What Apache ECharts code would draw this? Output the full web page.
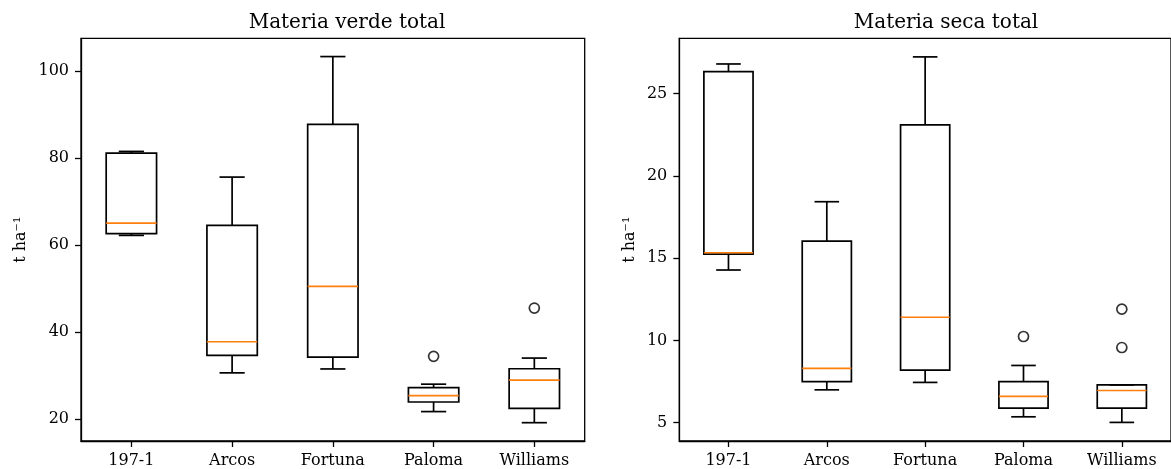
<!DOCTYPE html>
<html>
<head>
<meta charset="utf-8">
<script src="https://cdn.jsdelivr.net/npm/echarts@6/dist/echarts.min.js"></script>
<style>
html, body { margin: 0; padding: 0; background: #fff; }
#chart { width: 1171px; height: 469px; }
</style>
</head>
<body>
<div id="chart"></div>
<script>
const categories = ['197-1', 'Arcos', 'Fortuna', 'Paloma', 'Williams'];

// Materia verde total (t ha-1)
const verdeLow = [62.2, 30.6, 31.5, 21.7, 19.15];
const verdeQ1 = [62.6, 34.6, 34.2, 23.9, 22.45];
const verdeMedian = [65.0, 37.75, 50.5, 25.35, 28.95];
const verdeQ3 = [81.1, 64.5, 87.7, 27.2, 31.55];
const verdeHigh = [81.5, 75.6, 103.3, 28.0, 34.0];
const verdeOutliers = [[3, 34.4], [4, 45.5]];

// Materia seca total (t ha-1)
const secaLow = [14.28, 7.0, 7.45, 5.36, 5.02];
const secaQ1 = [15.24, 7.5, 8.2, 5.89, 5.89];
const secaMedian = [15.33, 8.3, 11.41, 6.6, 6.96];
const secaQ3 = [26.34, 16.03, 23.1, 7.5, 7.3];
const secaHigh = [26.8, 18.43, 27.23, 8.48, 7.3];
const secaOutliers = [[3, 10.24], [4, 9.57], [4, 11.9]];

const verdeTicks = [20, 40, 60, 80, 100];
const secaTicks = [5, 10, 15, 20, 25];

const font = 'DejaVu Serif';

function boxData(low, q1, med, q3, high) {
    return categories.map((c, i) => [i, low[i], q1[i], med[i], q3[i], high[i]]);
}

function renderBox(params, api) {
    const i = api.value(0);
    const low = api.coord([i, api.value(1)]);
    const q1 = api.coord([i, api.value(2)]);
    const med = api.coord([i, api.value(3)]);
    const q3 = api.coord([i, api.value(4)]);
    const high = api.coord([i, api.value(5)]);
    const band = api.size([1, 0])[0];
    const x = low[0], hw = band * 0.25, cw = band * 0.125;
    const black = { stroke: '#000', lineWidth: 1.7, fill: null };
    return {
        type: 'group',
        children: [
            { type: 'line', shape: { x1: x, y1: low[1], x2: x, y2: q1[1] }, style: black },
            { type: 'line', shape: { x1: x, y1: q3[1], x2: x, y2: high[1] }, style: black },
            { type: 'line', shape: { x1: x - cw, y1: low[1], x2: x + cw, y2: low[1] }, style: black },
            { type: 'line', shape: { x1: x - cw, y1: high[1], x2: x + cw, y2: high[1] }, style: black },
            { type: 'rect', shape: { x: x - hw, y: q3[1], width: 2 * hw, height: q1[1] - q3[1] }, style: black },
            { type: 'line', shape: { x1: x - hw, y1: med[1], x2: x + hw, y2: med[1] }, style: { stroke: '#ff7f0e', lineWidth: 1.7 } }
        ]
    };
}

function xAxisFor(idx) {
    return {
        type: 'category',
        gridIndex: idx,
        data: categories,
        boundaryGap: true,
        axisLine: { show: true, lineStyle: { color: '#000', width: 1.3 } },
        axisTick: { show: true, alignWithLabel: true, length: 6, lineStyle: { color: '#000', width: 1.3 } },
        axisLabel: { color: '#000', fontFamily: font, fontSize: 16, margin: 12 },
        splitLine: { show: false }
    };
}

function yAxisFor(idx, min, max, ticks, gap) {
    return {
        type: 'value',
        gridIndex: idx,
        min: min,
        max: max,
        name: 't ha⁻¹',
        nameLocation: 'middle',
        nameGap: gap,
        nameTextStyle: { color: '#000', fontFamily: font, fontSize: 16 },
        axisLine: { show: true, lineStyle: { color: '#000', width: 1.3 } },
        axisTick: { show: true, length: 6, customValues: ticks, lineStyle: { color: '#000', width: 1.3 } },
        axisLabel: { color: '#000', fontFamily: font, fontSize: 16, margin: 12, customValues: ticks },
        splitLine: { show: false }
    };
}

let myChart = echarts.init(document.getElementById('chart'), null, { renderer: 'canvas' });
myChart.setOption({
    animation: false,
    backgroundColor: '#fff',
    graphic: [
        { type: 'text', x: 347, y: 22.5, style: { text: 'Materia verde total', font: '20px "DejaVu Serif"', fill: '#000', textAlign: 'center', textVerticalAlign: 'middle' } },
        { type: 'text', x: 946, y: 22.5, style: { text: 'Materia seca total', font: '20px "DejaVu Serif"', fill: '#000', textAlign: 'center', textVerticalAlign: 'middle' } }
    ],
    grid: [
        { left: 81, top: 38.3, width: 503.7, height: 402.7, show: true, borderColor: '#000', borderWidth: 1.3, backgroundColor: 'transparent' },
        { left: 679.3, top: 38.3, width: 503.5, height: 402.7, show: true, borderColor: '#000', borderWidth: 1.3, backgroundColor: 'transparent' }
    ],
    xAxis: [xAxisFor(0), xAxisFor(1)],
    yAxis: [
        yAxisFor(0, 14.94, 107.5, verdeTicks, 52),
        yAxisFor(1, 3.89, 28.36, secaTicks, 41)
    ],
    series: [
        {
            type: 'custom',
            xAxisIndex: 0,
            yAxisIndex: 0,
            renderItem: renderBox,
            encode: { x: 0, y: [1, 2, 3, 4, 5] },
            data: boxData(verdeLow, verdeQ1, verdeMedian, verdeQ3, verdeHigh)
        },
        {
            type: 'scatter',
            xAxisIndex: 0,
            yAxisIndex: 0,
            symbol: 'circle',
            symbolSize: 10,
            itemStyle: { color: 'rgba(0,0,0,0)', borderColor: '#000', borderWidth: 1.7 },
            data: verdeOutliers
        },
        {
            type: 'custom',
            xAxisIndex: 1,
            yAxisIndex: 1,
            renderItem: renderBox,
            encode: { x: 0, y: [1, 2, 3, 4, 5] },
            data: boxData(secaLow, secaQ1, secaMedian, secaQ3, secaHigh)
        },
        {
            type: 'scatter',
            xAxisIndex: 1,
            yAxisIndex: 1,
            symbol: 'circle',
            symbolSize: 10,
            itemStyle: { color: 'rgba(0,0,0,0)', borderColor: '#000', borderWidth: 1.7 },
            data: secaOutliers
        }
    ]
});
</script>
</body>
</html>
